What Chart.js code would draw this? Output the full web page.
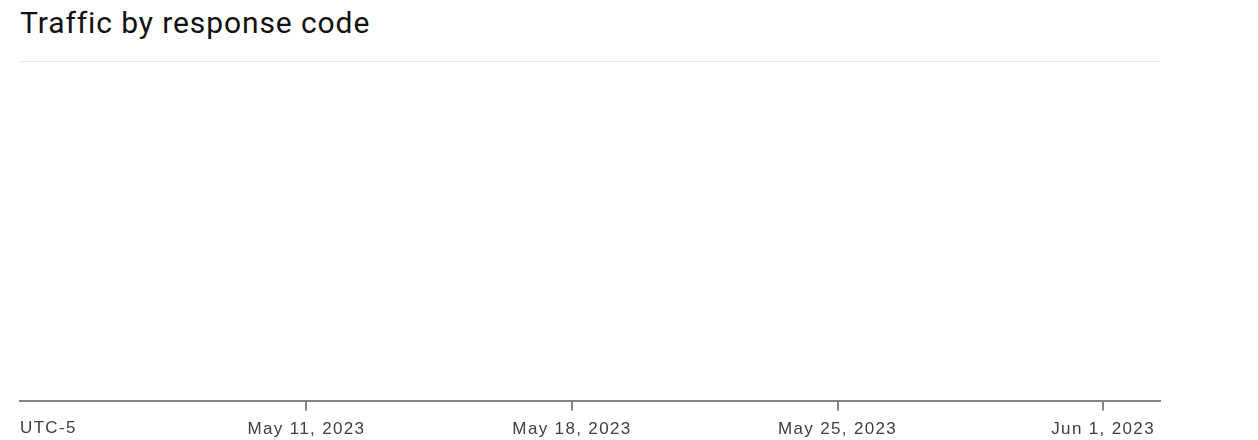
<!DOCTYPE html>
<html>
<head>
<meta charset="utf-8">
<script src="https://cdn.jsdelivr.net/npm/chart.js@4"></script>
<style>
  body { margin: 0; background: #fff; }
  .wrap { position: relative; width: 1258px; height: 440px; }
  .chart-title {
    position: absolute; left: 20px; top: 8px; margin: 0;
    font: 400 30px/30px Roboto, sans-serif; color: #111; white-space: nowrap;
    letter-spacing: 0.9px;
  }
  canvas { position: absolute; left: 0; top: 0; }
</style>
</head>
<body>
<div class="wrap">
  <h1 class="chart-title">Traffic by response code</h1>
  <canvas id="chart-traffic" width="1258" height="440"></canvas>
</div>
<script>
// no traffic recorded in the window, so the series are empty
const responseCodes = [];
const trafficValues = [];

// x is in days counted from Apr 30, 2023 (May 11 = 11, Jun 1 = 32)
const dayMin = 3.45;
const dayMax = 33.5;
const tickValues = [11, 18, 25, 32];
const tickLabels = ["May 11, 2023", "May 18, 2023", "May 25, 2023", "Jun 1, 2023"];
const zoneLabel = "UTC-5";

const axisGrey = "#80868b";
const labelGrey = "#3c4043";
const labelFont = { family: "'Liberation Sans', Arial, sans-serif", size: 17 };
const labelPad = 9;

const spacing = {
  id: "spacing",
  beforeDraw(chart) {
    chart.ctx.letterSpacing = "1.35px";
  },
};

const zoneText = {
  id: "zoneText",
  afterDraw(chart) {
    const ctx = chart.ctx;
    const x = chart.scales.x;
    ctx.save();
    ctx.letterSpacing = "1.35px";
    ctx.font = labelFont.size + "px " + labelFont.family;
    ctx.fillStyle = labelGrey;
    ctx.textAlign = "left";
    ctx.textBaseline = "top";
    ctx.fillText(zoneLabel, chart.chartArea.left, x.top + 10 + labelPad);
    ctx.restore();
  },
};

var ctx1 = document.getElementById("chart-traffic").getContext("2d");
new Chart(ctx1, {
  type: "line",
  data: {
    labels: responseCodes,
    datasets: [
      {
        label: "Traffic",
        data: trafficValues,
        borderColor: "#1a73e8",
        pointRadius: 0,
      },
    ],
  },
  options: {
    responsive: false,
    animation: false,
    layout: {
      padding: { left: 20, right: 98, top: 61, bottom: -9 },
    },
    plugins: {
      legend: { display: false },
      tooltip: { enabled: false },
    },
    scales: {
      x: {
        type: "linear",
        min: dayMin,
        max: dayMax,
        afterBuildTicks: (axis) => {
          axis.ticks = tickValues.map((v) => ({ value: v }));
        },
        ticks: {
          autoSkip: false,
          maxRotation: 0,
          padding: labelPad,
          color: labelGrey,
          font: labelFont,
          callback: (v) => tickLabels[tickValues.indexOf(v)],
        },
        grid: {
          drawOnChartArea: false,
          drawTicks: true,
          tickLength: 10,
          color: axisGrey,
          lineWidth: 2,
        },
        border: { display: true, color: axisGrey, width: 2 },
      },
      y: {
        min: 0,
        max: 1,
        afterBuildTicks: (axis) => {
          axis.ticks = [{ value: 1 }];
        },
        ticks: { display: false },
        grid: { drawTicks: false, color: "#e6e6e6", lineWidth: 1 },
        border: { display: false },
      },
    },
  },
  plugins: [spacing, zoneText],
});
</script>
</body>
</html>
